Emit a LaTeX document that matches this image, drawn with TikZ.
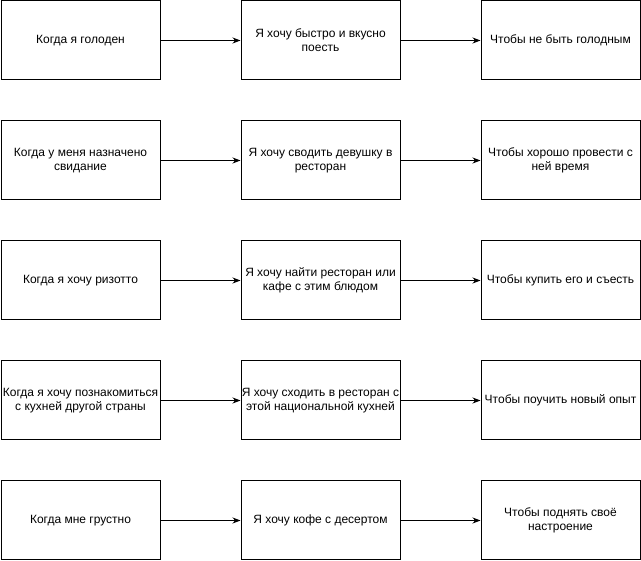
\documentclass[tikz,border=0pt]{standalone}
\usepackage{fontspec}
\setmainfont{Liberation Sans}
\usetikzlibrary{arrows.meta}

\begin{document}
\begin{tikzpicture}[x=1pt, y=-1pt,
  blok/.style={draw=black, line width=1pt, fill=white, minimum width=159pt,
               minimum height=79pt, inner sep=0pt, align=center, font=\fontsize{12}{14}\selectfont},
  strelka/.style={-{Stealth[length=8pt,width=6pt]}, line width=1pt, black}]
\useasboundingbox (0,0) rectangle (641,561);
% ряд 1
\node[blok] (g1) at (80.5,40.5)  {Когда я голоден};
\node[blok] (h1) at (320.5,40.5) {Я хочу быстро и вкусно\\поесть};
\node[blok] (c1) at (560.5,40.5) {Чтобы не быть голодным};
% ряд 2
\node[blok] (g2) at (80.5,160.5)  {Когда у меня назначено\\свидание};
\node[blok] (h2) at (320.5,160.5) {Я хочу сводить девушку в\\ресторан};
\node[blok] (c2) at (560.5,160.5) {Чтобы хорошо провести с\\ней время};
% ряд 3
\node[blok] (g3) at (80.5,280.5)  {Когда я хочу ризотто};
\node[blok] (h3) at (320.5,280.5) {Я хочу найти ресторан или\\кафе с этим блюдом};
\node[blok] (c3) at (560.5,280.5) {Чтобы купить его и съесть};
% ряд 4
\node[blok] (g4) at (80.5,400.5)  {Когда я хочу познакомиться\\с кухней другой страны};
\node[blok] (h4) at (320.5,400.5) {Я хочу сходить в ресторан с\\этой национальной кухней};
\node[blok] (c4) at (560.5,400.5) {Чтобы поучить новый опыт};
% ряд 5
\node[blok] (g5) at (80.5,520.5)  {Когда мне грустно};
\node[blok] (h5) at (320.5,520.5) {Я хочу кофе с десертом};
\node[blok] (c5) at (560.5,520.5) {Чтобы поднять своё\\настроение};
\draw[strelka] (g1) -- (h1);
\draw[strelka] (h1) -- (c1);
\draw[strelka] (g2) -- (h2);
\draw[strelka] (h2) -- (c2);
\draw[strelka] (g3) -- (h3);
\draw[strelka] (h3) -- (c3);
\draw[strelka] (g4) -- (h4);
\draw[strelka] (h4) -- (c4);
\draw[strelka] (g5) -- (h5);
\draw[strelka] (h5) -- (c5);
\end{tikzpicture}
\end{document}
